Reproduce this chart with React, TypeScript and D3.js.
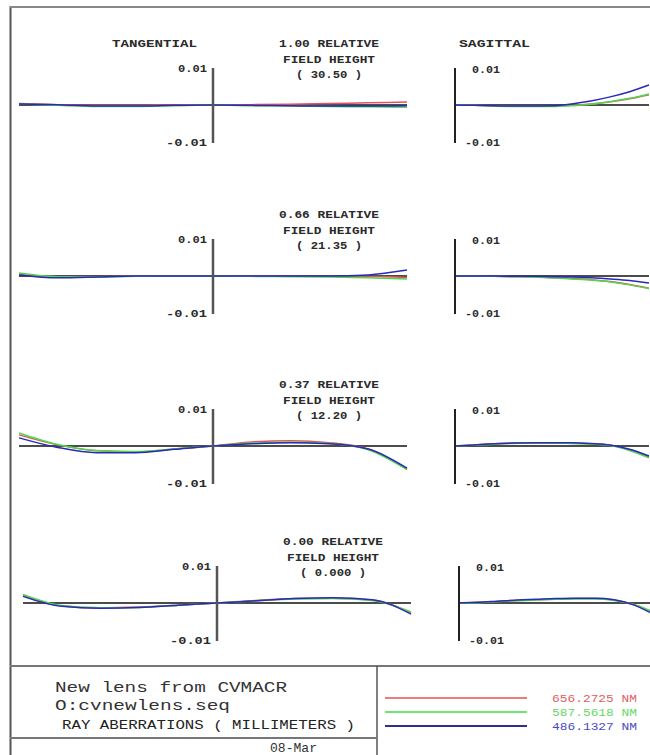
import React from "react";
import * as d3 from "d3";

// ---------- DATA ----------
const tanPupil = [-1, -0.8, -0.6, -0.4, -0.2, 0, 0.2, 0.4, 0.6, 0.8, 1];
const sagPupil = [0, 0.1, 0.2, 0.3, 0.4, 0.5, 0.6, 0.7, 0.8, 0.9, 1];

const fieldLabels = ["1.00", "0.66", "0.37", "0.00"];
const fieldAngles = ["30.50", "21.35", "12.20", "0.000"];

const wavelengths = ["656.2725 NM", "587.5618 NM", "486.1327 NM"];
const tickLabels = ["0.01", "-0.01"];

// Tangential (red, green, blue) per field
const tan1Red = [0.0004, 0.0001, -0.0001, -0.0001, 0.0001, 0, 0.0001, 0.0002, 0.0004, 0.0006, 0.0008];
const tan1Green = [0.0003, -0.0001, -0.0004, -0.0004, -0.0002, 0, -0.0002, -0.0003, -0.0004, -0.0005, -0.0006];
const tan1Blue = [0.0003, 0.0001, -0.0003, -0.0003, -0.0001, 0, -0.0001, -0.0002, -0.0003, -0.0003, -0.0002];

const tan2Red = [0.0004, -0.0002, -0.0002, 0, 0, 0, 0, 0, 0, -0.0001, -0.0004];
const tan2Green = [0.0008, -0.0002, -0.0003, -0.0001, 0, 0, -0.0001, -0.0002, -0.0003, -0.0005, -0.0008];
const tan2Blue = [0.0003, -0.0005, -0.0003, 0, 0, 0, 0, 0, 0, 0.0003, 0.0016];

const tan3Red = [0.003, 0.0003, -0.0013, -0.0016, -0.0008, 0, 0.0011, 0.0014, 0.0009, -0.0008, -0.0062];
const tan3Green = [0.0035, 0.0004, -0.0012, -0.0015, -0.0008, 0, 0.0008, 0.001, 0.0007, -0.001, -0.0064];
const tan3Blue = [0.0022, -0.0004, -0.0018, -0.0018, -0.0009, 0, 0.0006, 0.0009, 0.0006, -0.0008, -0.006];

const tan4Red = [0.002, -0.0008, -0.0013, -0.0011, -0.0006, 0, 0.0007, 0.0012, 0.0013, 0.0008, -0.0026];
const tan4Green = [0.0023, -0.0007, -0.0013, -0.0012, -0.0006, 0, 0.0006, 0.0011, 0.0012, 0.0007, -0.0024];
const tan4Blue = [0.0018, -0.0009, -0.0014, -0.0012, -0.0006, 0, 0.0006, 0.0012, 0.0014, 0.0009, -0.003];

// Sagittal (red, green, blue) per field
const sag1Red = [0, -0.0001, -0.0002, -0.0003, -0.0003, -0.0003, -0.0001, 0.0003, 0.0009, 0.0017, 0.0028];
const sag1Green = [0, -0.0001, -0.0003, -0.0004, -0.0004, -0.0004, -0.0002, 0.0002, 0.0009, 0.0018, 0.003];
const sag1Blue = [0, -0.0001, -0.0002, -0.0003, -0.0003, -0.0002, 0.0003, 0.0011, 0.0022, 0.0036, 0.0054];

const sag2Red = [0, 0, -0.0001, -0.0002, -0.0003, -0.0005, -0.0007, -0.001, -0.0015, -0.0023, -0.0033];
const sag2Green = [0, 0, -0.0001, -0.0002, -0.0003, -0.0005, -0.0008, -0.0011, -0.0016, -0.0024, -0.0034];
const sag2Blue = [0, 0, 0, -0.0001, -0.0001, -0.0002, -0.0003, -0.0005, -0.0008, -0.0012, -0.0019];

const sag3Red = [0, 0.0003, 0.0006, 0.0008, 0.0008, 0.0008, 0.0008, 0.0006, 0.0002, -0.0011, -0.003];
const sag3Green = [0, 0.0002, 0.0005, 0.0007, 0.0008, 0.0008, 0.0007, 0.0005, 0.0001, -0.0012, -0.0032];
const sag3Blue = [0, 0.0003, 0.0006, 0.0008, 0.0009, 0.0009, 0.0009, 0.0007, 0.0003, -0.0009, -0.0027];

const sag4Red = [0, 0.0002, 0.0004, 0.0007, 0.0009, 0.0011, 0.0012, 0.0012, 0.0008, -0.0004, -0.0026];
const sag4Green = [0, 0.0001, 0.0004, 0.0006, 0.0008, 0.001, 0.0011, 0.0011, 0.0007, -0.0004, -0.0024];
const sag4Blue = [0, 0.0002, 0.0005, 0.0008, 0.001, 0.0012, 0.0013, 0.0013, 0.0009, -0.0005, -0.003];

const tanSeries = [
  [tan1Red, tan1Green, tan1Blue],
  [tan2Red, tan2Green, tan2Blue],
  [tan3Red, tan3Green, tan3Blue],
  [tan4Red, tan4Green, tan4Blue],
];
const sagSeries = [
  [sag1Red, sag1Green, sag1Blue],
  [sag2Red, sag2Green, sag2Blue],
  [sag3Red, sag3Green, sag3Blue],
  [sag4Red, sag4Green, sag4Blue],
];

// ---------- STYLE / LAYOUT ----------
const lineColors = ["#e05555", "#4fd64f", "#2a2ab8"];
const legendLineColors = ["#ec7b7b", "#6fe86f", "#2e2e90"];
const legendTextColors = ["#e06060", "#66d866", "#4a4ac8"];
const rowZero = [105, 276, 446, 603];
const rowDx = [0, 0, 0, 4];
const FONT = "'Liberation Mono', 'DejaVu Sans Mono', monospace";
const TXT = "#2a2a2a";

export default function App() {
  const W = 650;
  const H = 755;

  const panels = fieldLabels.map((fl, i) => {
    const z = rowZero[i];
    const dx = rowDx[i];
    const y = d3.scaleLinear().domain([-0.01, 0.01]).range([z + 37, z - 37]);
    const xt = d3.scaleLinear().domain([-1, 1]).range([19 + dx, 407 + dx]);
    const xs = d3.scaleLinear().domain([0, 1]).range([455 + dx, 649 + dx]);
    const lineT = d3
      .line<number>()
      .x((_, k) => xt(tanPupil[k]))
      .y((v) => y(v))
      .curve(d3.curveMonotoneX);
    const lineS = d3
      .line<number>()
      .x((_, k) => xs(sagPupil[k]))
      .y((v) => y(v))
      .curve(d3.curveMonotoneX);
    const cx = 329 + dx;
    return (
      <g key={i}>
        {/* field header */}
        <text x={cx} y={z - 58} textAnchor="middle" fontFamily={FONT} fontWeight="bold" fontSize={10.5} fill={TXT} textLength={100} lengthAdjust="spacingAndGlyphs">
          {fl + " RELATIVE"}
        </text>
        <text x={cx} y={z - 42} textAnchor="middle" fontFamily={FONT} fontWeight="bold" fontSize={10.5} fill={TXT} textLength={92} lengthAdjust="spacingAndGlyphs">
          FIELD HEIGHT
        </text>
        <text x={cx} y={z - 27} textAnchor="middle" fontFamily={FONT} fontWeight="bold" fontSize={10.5} fill={TXT} textLength={66} lengthAdjust="spacingAndGlyphs">
          {"( " + fieldAngles[i] + " )"}
        </text>

        {/* tangential panel */}
        <line x1={xt(-1)} x2={xt(1)} y1={y(0)} y2={y(0)} stroke="#111" strokeWidth={1.3} />
        {tanSeries[i].map((s, c) => (
          <path key={c} d={lineT(s) || ""} fill="none" stroke={lineColors[c]} strokeWidth={1.5} />
        ))}
        <line x1={xt(0)} x2={xt(0)} y1={y(0.01)} y2={y(-0.01) + 1} stroke="#555" strokeWidth={2.5} />
        <text x={xt(0) - 6} y={y(0.01) + 4} textAnchor="end" fontFamily={FONT} fontWeight="bold" fontSize={10} fill={TXT} textLength={29} lengthAdjust="spacingAndGlyphs">
          {tickLabels[0]}
        </text>
        <text x={xt(0) - 6} y={y(-0.01) + 4} textAnchor="end" fontFamily={FONT} fontWeight="bold" fontSize={10} fill={TXT} textLength={41} lengthAdjust="spacingAndGlyphs">
          {tickLabels[1]}
        </text>

        {/* sagittal panel */}
        <line x1={xs(0)} x2={xs(1)} y1={y(0)} y2={y(0)} stroke="#111" strokeWidth={1.3} />
        {sagSeries[i].map((s, c) => (
          <path key={c} d={lineS(s) || ""} fill="none" stroke={lineColors[c]} strokeWidth={1.5} />
        ))}
        <line x1={xs(0)} x2={xs(0)} y1={y(0.01)} y2={y(-0.01) + 1} stroke="#222" strokeWidth={2} />
        <text x={xs(0) + 17} y={y(0.01) + 5} textAnchor="start" fontFamily={FONT} fontWeight="bold" fontSize={10} fill={TXT} textLength={28} lengthAdjust="spacingAndGlyphs">
          {tickLabels[0]}
        </text>
        <text x={xs(0) + 10} y={y(-0.01) + 4} textAnchor="start" fontFamily={FONT} fontWeight="bold" fontSize={10} fill={TXT} textLength={35} lengthAdjust="spacingAndGlyphs">
          {tickLabels[1]}
        </text>
      </g>
    );
  });

  return (
    <svg width={W} height={H} style={{ position: "absolute", left: 0, top: 0, background: "#fff" }}>
      <rect x={0} y={0} width={W} height={H} fill="#fff" />
      {/* frame */}
      <line x1={10.5} x2={10.5} y1={6} y2={H} stroke="#555" strokeWidth={2} />
      <line x1={10} x2={W} y1={7} y2={7} stroke="#888" strokeWidth={2} />
      <line x1={10} x2={W} y1={666} y2={666} stroke="#777" strokeWidth={2} />
      <line x1={377} x2={377} y1={666} y2={H} stroke="#555" strokeWidth={1.5} />
      <line x1={10} x2={377} y1={738} y2={738} stroke="#777" strokeWidth={2} />

      {/* column titles */}
      <text x={112} y={47} fontFamily={FONT} fontWeight="bold" fontSize={11} fill={TXT} textLength={85} lengthAdjust="spacingAndGlyphs">
        TANGENTIAL
      </text>
      <text x={459} y={47} fontFamily={FONT} fontWeight="bold" fontSize={11} fill={TXT} textLength={71} lengthAdjust="spacingAndGlyphs">
        SAGITTAL
      </text>

      {panels}

      {/* title block */}
      <text x={55} y={692} fontFamily={FONT} fontSize={15} fill="#333" textLength={232} lengthAdjust="spacingAndGlyphs">
        New lens from CVMACR
      </text>
      <text x={55} y={710} fontFamily={FONT} fontSize={15} fill="#333" textLength={175} lengthAdjust="spacingAndGlyphs">
        O:cvnewlens.seq
      </text>
      <text x={62} y={729} fontFamily={FONT} fontSize={12} fill="#222" textLength={293} lengthAdjust="spacingAndGlyphs">
        {"RAY ABERRATIONS (  MILLIMETERS )"}
      </text>
      <text x={270} y={752} fontFamily={FONT} fontSize={13} fill="#333" textLength={47} lengthAdjust="spacingAndGlyphs">
        08-Mar
      </text>

      {/* legend */}
      {wavelengths.map((w, i) => {
        const ly = [698, 712, 726][i];
        return (
          <g key={w}>
            <line x1={385} x2={527} y1={ly} y2={ly} stroke={legendLineColors[i]} strokeWidth={2} />
            <text x={552} y={ly + 4} fontFamily={FONT} fontSize={10} fill={legendTextColors[i]} textLength={85} lengthAdjust="spacingAndGlyphs">
              {w}
            </text>
          </g>
        );
      })}
    </svg>
  );
}
